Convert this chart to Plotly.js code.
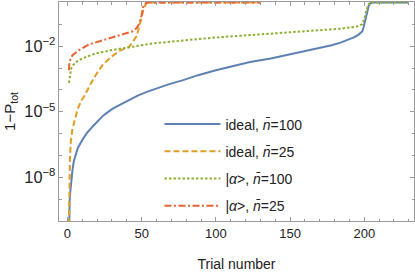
<!DOCTYPE html>
<html>
<head>
<meta charset="utf-8">
<script src="https://cdn.plot.ly/plotly-3.0.1.min.js"></script>
<style>html,body{margin:0;padding:0;background:#fff;}</style>
</head>
<body>
<div id="chart" style="width:415px;height:272px;"></div>
<script>
// Series names
const names = [
  "ideal, <i>n\u0304</i>=100",
  "ideal, <i>n\u0304</i>=25",
  "|<i>\u03b1</i>&gt;, <i>n\u0304</i>=100",
  "|<i>\u03b1</i>&gt;, <i>n\u0304</i>=25"
];

// ideal, n=100
const idealN100Trial = [1, 1.1, 1.2, 1.45, 1.8, 2.2, 2.7, 3.4, 4.3, 5.6, 7, 10, 13, 17, 20, 24, 27, 30, 33, 37, 42, 48, 54, 60, 68, 78, 88, 100, 110, 123, 137, 150, 160, 170, 178, 184, 189, 193, 196, 198.6, 199.5, 200.2, 200.9, 201.6, 202.3, 203, 204, 205, 206, 230];
const idealN100Value = [1e-11, 1e-10, 2.0e-10, 7.9e-10, 1.8e-9, 3.8e-9, 8.9e-9, 2.2e-8, 5.6e-8, 1.26e-7, 2.2e-7, 5.1e-7, 1.05e-6, 2.1e-6, 3.5e-6, 6.6e-6, 9.3e-6, 1.32e-5, 1.7e-5, 2.4e-5, 3.6e-5, 5.75e-5, 8.3e-5, 1.17e-4, 1.78e-4, 2.8e-4, 4.7e-4, 7.9e-4, 1.17e-3, 1.9e-3, 2.75e-3, 4.2e-3, 5.75e-3, 7.9e-3, 1.1e-2, 1.45e-2, 1.9e-2, 2.5e-2, 3.3e-2, 4.7e-2, 7.1e-2, 0.11, 0.19, 0.32, 0.52, 0.71, 0.91, 0.98, 1, 1];

// ideal, n=25
const idealN25Trial = [1, 1.1, 1.6, 2.2, 3.2, 4.5, 6.7, 9.3, 11.2, 14.6, 19.1, 23.6, 29.3, 36, 41.6, 44.5, 46.5, 48, 49.5, 51.1, 52.9, 55, 130];
const idealN25Value = [1e-11, 2.0e-9, 5.0e-8, 4.0e-7, 1.4e-6, 3.2e-6, 1.2e-5, 3.2e-5, 5.0e-5, 1.38e-4, 4.8e-4, 1.35e-3, 3.2e-3, 6.6e-3, 9.3e-3, 1.78e-2, 2.8e-2, 6.3e-2, 0.155, 0.44, 0.89, 1, 1];

// coherent |alpha>, n=100
const cohN100Trial = [1, 1.5, 2.5, 4, 6, 10, 19, 30, 42, 57, 78, 100, 123, 143, 170, 184, 195, 198.5, 199.7, 200.9, 202.4, 204, 230];
const cohN100Value = [2.1e-4, 4.0e-4, 9.5e-4, 1.41e-3, 1.9e-3, 2.75e-3, 4.7e-3, 6.6e-3, 9.3e-3, 1.32e-2, 1.82e-2, 2.5e-2, 3.2e-2, 4.0e-2, 5.2e-2, 6.3e-2, 7.9e-2, 0.1, 0.155, 0.32, 0.74, 1, 1];

// coherent |alpha>, n=25
const cohN25Trial = [1, 1.3, 3.4, 7.8, 14.6, 26, 37, 44, 46.5, 48.5, 49.8, 51, 53, 55, 130];
const cohN25Value = [7.9e-4, 1.9e-3, 3.9e-3, 6.6e-3, 1.2e-2, 2.0e-2, 3.3e-2, 4.8e-2, 6.6e-2, 0.112, 0.24, 0.63, 0.95, 1, 1];

const colors = ["#5E81B5", "#E19C24", "#8FB032", "#EB6235"];
const dashes = ["solid", "6px,3px", "2.5px,2px", "7px,2.5px,2px,2.5px"];

const xs = [idealN100Trial, idealN25Trial, cohN100Trial, cohN25Trial];
const ys = [idealN100Value, idealN25Value, cohN100Value, cohN25Value];

const traces = xs.map((x, i) => ({
  x: x, y: ys[i], type: "scatter", mode: "lines", name: names[i],
  legendgroup: "g" + i,
  line: {color: colors[i], width: 2, dash: dashes[i]}
}));

const axisColor = "#9a9a9a";
const fontFam = "Liberation Sans, Arial, sans-serif";

const layout = {
  width: 415, height: 272,
  margin: {l: 59, r: 1, t: 2, b: 51},
  paper_bgcolor: "#fff", plot_bgcolor: "#fff",
  font: {family: fontFam, size: 13, color: "#222"},
  showlegend: true,
  legend: {
    x: 0.283, y: 0.514, xanchor: "left", yanchor: "top",
    bgcolor: "rgba(0,0,0,0)", borderwidth: 0,
    font: {family: fontFam, size: 14, color: "#222"},
    traceorder: "grouped", tracegroupgap: 6, itemwidth: 56
  },
  xaxis: {
    range: [-5.7, 233.5], tick0: 0, dtick: 50,
    ticks: "inside", ticklen: 4, tickcolor: axisColor, tickwidth: 1,
    showline: true, linecolor: axisColor, linewidth: 1, mirror: "ticks",
    showgrid: false, zeroline: false,
    minor: {dtick: 10, ticks: "inside", ticklen: 2.5, tickcolor: axisColor, showgrid: false},
    tickfont: {family: fontFam, size: 13, color: "#222"},
    title: {text: "Trial number", font: {family: fontFam, size: 14, color: "#222"}, standoff: 21}
  },
  yaxis: {
    type: "log", range: [-10, 0.02], tick0: -2, dtick: 3, exponentformat: "power",
    ticks: "inside", ticklen: 4, tickcolor: axisColor, tickwidth: 1,
    showline: true, linecolor: axisColor, linewidth: 1, mirror: "ticks",
    showgrid: false, zeroline: false,
    minor: {dtick: 1, ticks: "inside", ticklen: 2.5, tickcolor: axisColor, showgrid: false},
    tickfont: {family: fontFam, size: 13, color: "#222"},
    title: {text: "1\u2212P<sub>tot</sub>", font: {family: fontFam, size: 15, color: "#222"}, standoff: 5}
  }
};

Plotly.newPlot("chart", traces, layout, {staticPlot: true, displayModeBar: false});
</script>
</body>
</html>
